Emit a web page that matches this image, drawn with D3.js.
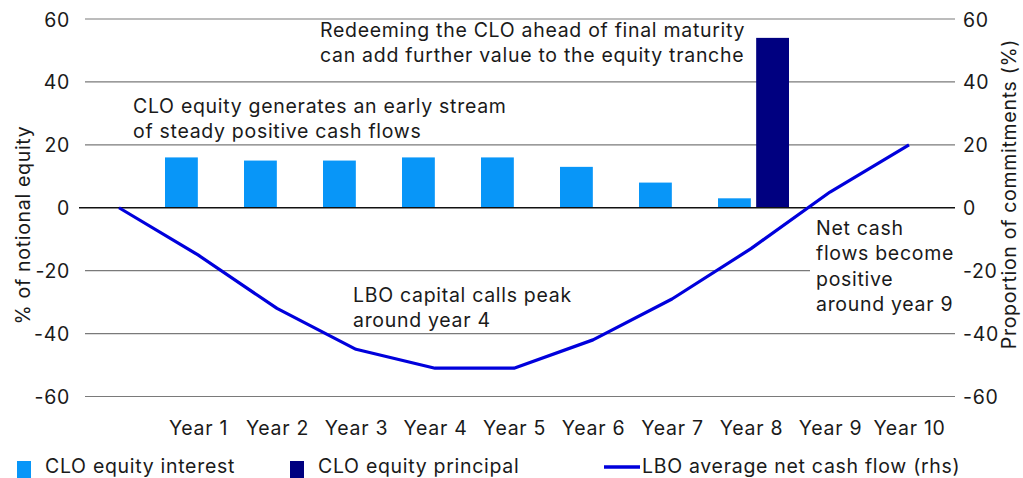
<!DOCTYPE html>
<head>
<meta charset="utf-8">
<title>CLO equity vs LBO cash flows</title>
<script type="text/javascript" src="https://d3js.org/d3.v7.min.js"></script>
<style>
  body { margin: 0; background: #fff; }
  text { font-family: Inter, "Open Sans", sans-serif; fill: #1a1a1a; letter-spacing: 0.7px; }
</style>
</head>

<body>
<div id="container"></div>
<script>

// data
const years = ["Year 0", "Year 1", "Year 2", "Year 3", "Year 4", "Year 5",
               "Year 6", "Year 7", "Year 8", "Year 9", "Year 10"]
const yearLabels = ["", "Year 1", "Year 2", "Year 3", "Year 4", "Year 5",
                    "Year 6", "Year 7", "Year 8", "Year 9", "Year 10"]
const cloInterest  = [null, 16, 15, 15, 16, 16, 13, 8, 3, null, null]
const cloPrincipal = [null, null, null, null, null, null, null, null, 54, null, null]
const lboNetCash   = [0, -15, -32, -45, -51, -51, -42, -29, -13, 5, 20]
const yTicks = [60, 40, 20, 0, -20, -40, -60]

function chart() {
  const width = 1023; const height = 478;
  const margin = ({top: 19, right: 68, bottom: 82, left: 79})
  const fs = 19.5

  const svg = d3.select("div#container").append("svg")
      .attr("width", width).attr("height", height)
      .attr("viewBox", [0, 0, width, height])

  const xScale = d3.scalePoint().domain(years).range([119, 909])
  const xSub = d3.scaleBand().domain(["interest", "principal"])
      .range([-33, 38]).paddingInner(0.14)
  // both axes run -60..60 on the same grid
  const yLeft = d3.scaleLinear().domain([-60, 60]).range([396.5, 19])
  const yRight = d3.scaleLinear().domain([-60, 60]).range([396.5, 19])

  // gridlines
  svg.append("g").selectAll("line").data(yTicks.filter(d => d !== 0))
    .join("line")
      .attr("x1", 85).attr("x2", width - margin.right)
      .attr("y1", d => yLeft(d)).attr("y2", d => yLeft(d))
      .attr("stroke", "#7a7a7a").attr("stroke-width", 1.2)

  const fmt = d => String(d)   // plain hyphen minus, as in the original

  // left axis labels
  svg.append("g").attr("transform", `translate(70,0)`)
    .call(d3.axisLeft(yLeft).tickValues(yTicks).tickFormat(fmt).tickSize(0).tickPadding(0))
    .call(g => g.select(".domain").remove())
    .call(g => g.selectAll("text").attr("font-size", fs)
        .attr("font-family", null).attr("dy", "0.36em"))

  // right axis labels
  svg.append("g").attr("transform", `translate(963,0)`)
    .call(d3.axisRight(yRight).tickValues(yTicks).tickFormat(fmt).tickSize(0).tickPadding(0))
    .call(g => g.select(".domain").remove())
    .call(g => g.selectAll("text").attr("font-size", fs)
        .attr("font-family", null).attr("dy", "0.36em"))

  // x axis labels
  svg.append("g").attr("transform", `translate(0,428)`)
    .call(d3.axisBottom(xScale).tickSize(0).tickPadding(0)
        .tickFormat((d, i) => yearLabels[i]))
    .call(g => g.select(".domain").remove())
    .call(g => g.selectAll("text").attr("font-size", fs)
        .attr("font-family", null).attr("dy", "0.36em"))

  // axis titles
  svg.append("text")
    .attr("transform", `translate(30,225) rotate(-90)`)
    .attr("text-anchor", "middle").attr("font-size", fs)
    .text("% of notional equity")
  svg.append("text")
    .attr("transform", `translate(1016,194) rotate(-90)`)
    .attr("text-anchor", "middle").attr("font-size", fs)
    .text("Proportion of commitments (%)")

  // bars
  const bars = []
  years.forEach((y, i) => {
    if (cloInterest[i] != null) bars.push({year: y, key: "interest", v: cloInterest[i]})
    if (cloPrincipal[i] != null) bars.push({year: y, key: "principal", v: cloPrincipal[i]})
  })
  const color = {interest: "#0896f8", principal: "#000080"}
  svg.append("g").selectAll("rect").data(bars)
    .join("rect")
      .attr("x", d => xScale(d.year) + xSub(d.key))
      .attr("width", xSub.bandwidth())
      .attr("y", d => yLeft(d.v))
      .attr("height", d => yLeft(0) - yLeft(d.v))
      .attr("fill", d => color[d.key])

  // annotation background for the right note
  svg.append("rect").attr("x", 810).attr("y", 217).attr("width", 148).attr("height", 100)
    .attr("fill", "#fff")

  // zero line
  svg.append("line")
    .attr("x1", 79).attr("x2", width - margin.right)
    .attr("y1", yLeft(0)).attr("y2", yLeft(0))
    .attr("stroke", "#111").attr("stroke-width", 1.6)

  // LBO line
  const line = d3.line()
    .x((d, i) => xScale(years[i]))
    .y(d => yRight(d))
  svg.append("path").datum(lboNetCash)
    .attr("fill", "none").attr("stroke", "#0000dc").attr("stroke-width", 3.2)
    .attr("stroke-linejoin", "round")
    .attr("d", line)

  // annotations
  const notes = [
    {x: 320, y: 37, lines: ["Redeeming the CLO ahead of final maturity",
                            "can add further value to the equity tranche"]},
    {x: 133, y: 113, lines: ["CLO equity generates an early stream",
                             "of steady positive cash flows"]},
    {x: 353, y: 302, lines: ["LBO capital calls peak", "around year 4"]},
    {x: 816, y: 235, lines: ["Net cash", "flows become", "positive", "around year 9"]}
  ]
  notes.forEach(n => {
    const t = svg.append("text").attr("font-size", fs)
    n.lines.forEach((l, i) => t.append("tspan").attr("x", n.x).attr("y", n.y + i * 25.3).text(l))
  })

  // legend
  const lg = svg.append("g").attr("font-size", fs)
  lg.append("rect").attr("x", 17).attr("y", 461).attr("width", 14).attr("height", 17).attr("fill", color.interest)
  lg.append("text").attr("x", 45).attr("y", 473).text("CLO equity interest")
  lg.append("rect").attr("x", 290).attr("y", 461).attr("width", 14).attr("height", 17).attr("fill", color.principal)
  lg.append("text").attr("x", 318).attr("y", 473).text("CLO equity principal")
  lg.append("line").attr("x1", 604).attr("x2", 640).attr("y1", 467).attr("y2", 467)
    .attr("stroke", "#0000dc").attr("stroke-width", 3.5)
  lg.append("text").attr("x", 642).attr("y", 473).text("LBO average net cash flow (rhs)")
}

chart()

</script>
</body>
